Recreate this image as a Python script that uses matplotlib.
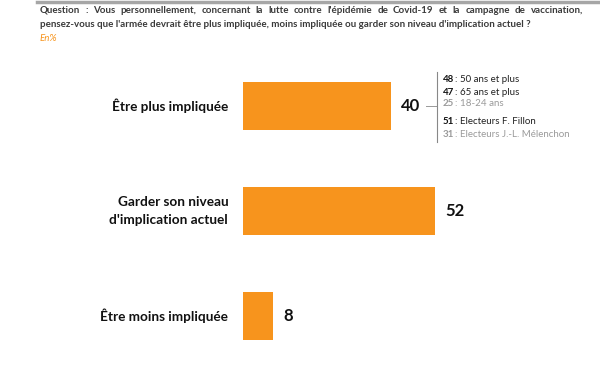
import matplotlib.pyplot as plt

categories = ["Être plus impliquée", "Garder son niveau\nd'implication actuel", "Être moins impliquée"]
values = [40, 52, 8]

detail_numbers = ["48", "47", "25", "51", "31"]
detail_labels = [": 50 ans et plus", ": 65 ans et plus", ": 18-24 ans",
                 ": Electeurs F. Fillon", ": Electeurs J.-L. Mélenchon"]
detail_grey = [False, False, True, False, True]

question_1 = "Question : Vous personnellement, concernant la lutte contre l'épidémie de Covid-19 et la campagne de vaccination,"
question_2 = "pensez-vous que l'armée devrait être plus impliquée, moins impliquée ou garder son niveau d'implication actuel ?"

ORANGE = "#F7941D"
W, H = 600, 368

plt.rcParams['font.family'] = ['Lato', 'DejaVu Sans']

fig = plt.figure(figsize=(6, 3.68), dpi=100)

def fx(px):
    return px / W

def fy(py):
    return 1 - py / H

# header
qstyle = dict(fontsize=7.0, fontweight="bold", color="#3a3a3a", va="baseline")
fig.add_artist(plt.Line2D([fx(37), fx(600)], [fy(2), fy(2)], color="#A6A6A6", lw=2.5))

# first line is justified between x=40 and x=583
renderer = fig.canvas.get_renderer()
words = question_1.split(" ")
objs = [fig.text(0, fy(13), w, **qstyle) for w in words]
widths = [o.get_window_extent(renderer).width for o in objs]
gap = (583 - 40 - sum(widths)) / (len(words) - 1)
x = 40
for o, w in zip(objs, widths):
    o.set_x(fx(x))
    x += w + gap

fig.text(fx(40), fy(27), question_2, **qstyle)
fig.text(fx(40), fy(41), "En%", fontsize=7.0, style="italic", color=ORANGE, va="baseline")

# bars: 0 at x=243px, 3.69 px per point
x0 = 243
ppu = 3.69
xmax = (W - x0) / ppu
ax = fig.add_axes([fx(x0), fy(368.5), 1 - fx(x0), 315 / H])
ypos = list(range(len(values)))
ax.barh(ypos, values, height=0.46, color=ORANGE)
ax.set_xlim(0, xmax)
ax.set_ylim(2.5, -0.5)
ax.axis("off")

for y, v, c in zip(ypos, values, categories):
    ax.text(v + 2.9, y, str(v), fontsize=12, fontweight="bold", color="#111111",
            va="center", ha="left")
    ax.text(-4, y, c, fontsize=9.8, fontweight="bold", color="#111111",
            va="center", ha="right", multialignment="right", linespacing=1.5)

# detail bracket for first bar
ax.plot([values[0] + 9.5, values[0] + 12.7], [0, 0], color="#999999", lw=0.7)
ax.plot([values[0] + 12.7, values[0] + 12.7], [-0.325, 0.343], color="#888888", lw=0.8)
ys = [-0.248, -0.124, -0.02, 0.152, 0.276]
for yy, n, lab, g in zip(ys, detail_numbers, detail_labels, detail_grey):
    col = "#9a9a9a" if g else "#111111"
    ax.text(values[0] + 14.2, yy, n, fontsize=7, fontweight="bold", color=col, va="center")
    ax.text(values[0] + 17.4, yy, lab, fontsize=7, color="#9a9a9a" if g else "#222222", va="center")

fig.savefig("out.png", dpi=100)
